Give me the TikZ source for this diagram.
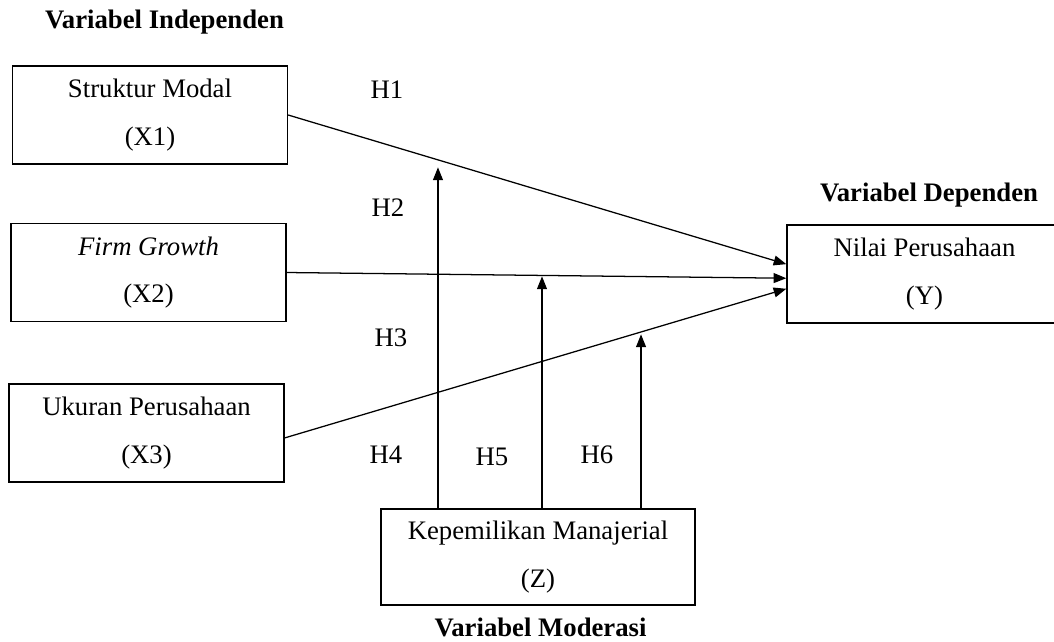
\documentclass[tikz,border=0pt]{standalone}
\usepackage{fontspec}
\setmainfont{Liberation Serif}
\usetikzlibrary{arrows.meta}

\tikzset{
	varbox/.style={draw, line width=0.9pt, align=center, minimum width=6.875cm, minimum height=2.45cm, font=\fontsize{19}{34}\selectfont},
	judul/.style={font=\fontsize{19}{23}\selectfont\bfseries},
	hlabel/.style={font=\fontsize{19}{23}\selectfont},
	panah/.style={line width=0.9pt, -{Triangle[length=9pt,width=7pt]}}
}

\begin{document}
\begin{tikzpicture}[x=0.025cm,y=-0.025cm]
			\useasboundingbox (0,0) rectangle (1054,641);
			% variabel
			\node[varbox] (x1) at (150,115) {Struktur Modal\\(X1)};
			\node[varbox] (x2) at (148.5,272.5) {\textit{Firm Growth}\\(X2)};
			\node[varbox] (x3) at (146.5,433) {Ukuran Perusahaan\\(X3)};
			\node[varbox] (y) at (924.5,274) {Nilai Perusahaan\\(Y)};
			\node[varbox, minimum width=7.85cm, minimum height=2.4cm] (z) at (538,557) {Kepemilikan Manajerial\\(Z)};
			% judul
			\node[judul] (jx) at (164.5,22) {Variabel Independen};
			\node[judul] (jy) at (929,195) {Variabel Dependen};
			\node[judul] (jz) at (540.5,627) {Variabel Moderasi};
			% hipotesis
			\node[hlabel] (h1) at (387,90) {H1};
			\node[hlabel] (h2) at (388,208) {H2};
			\node[hlabel] (h3) at (391,338) {H3};
			\node[hlabel] (h4) at (386,455) {H4};
			\node[hlabel] (h5) at (492,457) {H5};
			\node[hlabel] (h6) at (597,455) {H6};
			% panah
			\draw[panah] (x1.east) -- ([yshift=7pt]y.west);
			\draw[panah] (x2.east) -- ([yshift=-3pt]y.west);
			\draw[panah] ([yshift=-3.5pt]x3.east) -- ([yshift=-10.5pt]y.west);
			\draw[panah] ([xshift=-2.5cm]z.north) -- ++(0,-341);
			\draw[panah] ([xshift=0.1cm]z.north) -- ++(0,-232);
			\draw[panah] ([xshift=2.575cm]z.north) -- ++(0,-174);
		\end{tikzpicture}
\end{document}
